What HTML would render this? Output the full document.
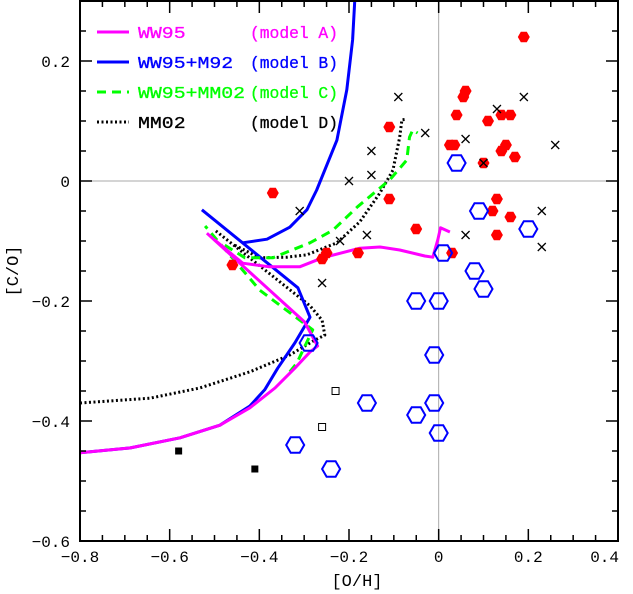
<!DOCTYPE html>
<html><head><meta charset="utf-8"><style>
html,body{margin:0;padding:0;background:#fff;}
svg{display:block;font-family:"Liberation Mono","DejaVu Sans Mono",monospace;}
</style></head><body>
<svg id="chart" width="633" height="594" viewBox="0 0 633 594"></svg>
<script>
const xTicks=[-0.8,-0.6,-0.4,-0.2,0,0.2,0.4];
const xTickLabels=["\u22120.8","\u22120.6","\u22120.4","\u22120.2","0","0.2","0.4"];
const yTicks=[0.2,0,-0.2,-0.4,-0.6];
const yTickLabels=["0.2","0","\u22120.2","\u22120.4","\u22120.6"];
const modelA_lowX=[-0.8,-0.689,-0.577,-0.488,-0.421,-0.365,-0.321,-0.287,-0.270,-0.299,-0.517];
const modelA_lowY=[-0.453,-0.445,-0.428,-0.407,-0.378,-0.345,-0.312,-0.285,-0.275,-0.235,-0.087];
const modelA_upX=[-0.5,-0.437,-0.377,-0.31,-0.259,-0.176,-0.131,-0.087,-0.031,-0.013,-0.002,0.004,0.025];
const modelA_upY=[-0.098,-0.137,-0.143,-0.143,-0.128,-0.112,-0.110,-0.115,-0.125,-0.127,-0.098,-0.078,-0.085];
const modelB_lowX=[-0.8,-0.689,-0.577,-0.488,-0.421,-0.388,-0.359,-0.321,-0.287,-0.314,-0.528];
const modelB_lowY=[-0.453,-0.445,-0.428,-0.407,-0.375,-0.348,-0.312,-0.27,-0.227,-0.178,-0.048];
const modelB_upX=[-0.437,-0.383,-0.332,-0.294,-0.272,-0.227,-0.205,-0.192,-0.187];
const modelB_upY=[-0.103,-0.097,-0.077,-0.048,-0.015,0.068,0.152,0.235,0.302];
const modelC_lowX=[-0.332,-0.316,-0.281,-0.399,-0.521];
const modelC_lowY=[-0.318,-0.303,-0.248,-0.182,-0.075];
const modelC_upX=[-0.477,-0.432,-0.37,-0.287,-0.236,-0.181,-0.109,-0.071,-0.065,-0.058,-0.047];
const modelC_upY=[-0.107,-0.128,-0.128,-0.103,-0.082,-0.043,0.002,0.035,0.073,0.085,0.08];
const modelD_lowX=[-0.8,-0.644,-0.533,-0.421,-0.332,-0.276,-0.254,-0.26,-0.287,-0.499];
const modelD_lowY=[-0.37,-0.362,-0.345,-0.318,-0.29,-0.265,-0.257,-0.232,-0.208,-0.082];
const modelD_upX=[-0.455,-0.399,-0.339,-0.294,-0.227,-0.176,-0.131,-0.102,-0.087,-0.082,-0.071];
const modelD_upY=[-0.107,-0.128,-0.127,-0.123,-0.103,-0.068,-0.02,0.018,0.073,0.102,0.103];
const redX=[0.19,0.06,0.055,0.04,0.11,0.16,0.14,-0.11,0.025,0.035,0.15,0.14,0.17,0.10,-0.11,0.13,0.12,0.16,0.13,-0.05,0.03,-0.18,-0.37,-0.25,-0.26,-0.46];
const redY=[0.24,0.15,0.14,0.11,0.10,0.11,0.11,0.09,0.06,0.06,0.06,0.05,0.04,0.03,-0.03,-0.03,-0.05,-0.06,-0.09,-0.08,-0.12,-0.12,-0.02,-0.12,-0.13,-0.14];
const crossX=[-0.09,0.19,0.13,-0.03,0.06,0.26,0.10,-0.15,-0.15,-0.2,-0.31,0.23,-0.16,0.06,0.23,-0.22,-0.26];
const crossY=[0.14,0.14,0.12,0.08,0.07,0.06,0.03,0.05,0.01,0,-0.05,-0.05,-0.09,-0.09,-0.11,-0.10,-0.17];
const blueX=[0.04,0.09,0.2,0.01,0.08,0.10,-0.05,0,-0.29,-0.01,-0.16,-0.05,-0.01,0,-0.32,-0.24];
const blueY=[0.03,-0.05,-0.08,-0.12,-0.15,-0.18,-0.2,-0.2,-0.27,-0.29,-0.37,-0.39,-0.37,-0.42,-0.44,-0.48];
const openSqX=[-0.23,-0.26];
const openSqY=[-0.35,-0.41];
const fillSqX=[-0.58,-0.41];
const fillSqY=[-0.45,-0.48];

const L=80,R=618,T=1,B=541,X0=-0.8,X1=0.4,Y0=-0.6,Y1=0.3;
const sx=v=>L+(v-X0)/(X1-X0)*(R-L);
const sy=v=>B-(v-Y0)/(Y1-Y0)*(B-T);
const NS="http://www.w3.org/2000/svg";
const svg=document.getElementById('chart');
function mk(tag,attrs,parent){const e=document.createElementNS(NS,tag);for(const k in attrs)e.setAttribute(k,attrs[k]);(parent||svg).appendChild(e);return e;}

let g=mk('line',{x1:sx(0),x2:sx(0),y1:T,y2:B,stroke:'#aaa','stroke-width':1});


g=mk('line',{x1:L,x2:R,y1:sy(0),y2:sy(0),stroke:'#aaa','stroke-width':1});



function line(xs,ys,color,width,dash,name){
  let d='';for(let i=0;i<xs.length;i++)d+=(i?'L':'M')+sx(xs[i]).toFixed(1)+','+sy(ys[i]).toFixed(1);
  const p=mk('path',{d:d,fill:'none',stroke:color,'stroke-width':width,'stroke-linejoin':'round'});
  if(dash)p.setAttribute('stroke-dasharray',dash);
  
  
}
line(modelD_lowX,modelD_lowY,'#000',3,'2 2.5','model-d-lower');
line(modelD_upX,modelD_upY,'#000',3,'2 2.5','model-d-upper');
line(modelB_lowX,modelB_lowY,'#0000ff',3,null,'model-b-lower');
line(modelB_upX,modelB_upY,'#0000ff',3,null,'model-b-upper');
line(modelC_lowX,modelC_lowY,'#00ff00',3,'9 6','model-c-lower');
line(modelC_upX,modelC_upY,'#00ff00',3,'9 6','model-c-upper');
line(modelA_lowX,modelA_lowY,'#ff00ff',3,null,'model-a-lower');
line(modelA_upX,modelA_upY,'#ff00ff',3,null,'model-a-upper');

function hex(cx,cy,r){let s='';for(let k=0;k<6;k++){const a=Math.PI/3*k;s+=(cx+r*Math.cos(a)).toFixed(1)+','+(cy+r*Math.sin(a)).toFixed(1)+' ';}return s;}
for(let i=0;i<redX.length;i++){
  const p=mk('polygon',{points:hex(sx(redX[i]),sy(redY[i]),6),fill:'#ff0000'});
  
  
}
for(let i=0;i<blueX.length;i++){
  const p=mk('polygon',{points:hex(sx(blueX[i]),sy(blueY[i]),9),fill:'none',stroke:'#0000ff','stroke-width':2});
  
  
}
for(let i=0;i<crossX.length;i++){
  const cx=sx(crossX[i]),cy=sy(crossY[i]);
  const p=mk('path',{d:`M${cx-4},${cy-4}L${cx+4},${cy+4}M${cx-4},${cy+4}L${cx+4},${cy-4}`,stroke:'#000','stroke-width':1.3});
  
  
}
for(let i=0;i<openSqX.length;i++){
  const p=mk('rect',{x:sx(openSqX[i])-3.5,y:sy(openSqY[i])-3.5,width:7,height:7,fill:'none',stroke:'#000','stroke-width':1});
  
  
}
for(let i=0;i<fillSqX.length;i++){
  const p=mk('rect',{x:sx(fillSqX[i])-3.5,y:sy(fillSqY[i])-3.5,width:7,height:7,fill:'#000'});
  
  
}

g=mk('rect',{x:L,y:T,width:R-L,height:B-T,fill:'none',stroke:'#000','stroke-width':2});


let td='';
for(let k=0;k<=24;k++){const v=X0+k*0.05,x=sx(v),len=(k%4===0)?12:6;td+=`M${x},${B}v${-len}M${x},${T}v${len}`;}
for(let k=0;k<=18;k++){const v=Y0+k*0.05,y=sy(v),len=(k%4===0)?12:6;td+=`M${L},${y}h${len}M${R},${y}h${-len}`;}
g=mk('path',{d:td,stroke:'#000','stroke-width':1.5,fill:'none'});


for(let i=0;i<xTicks.length;i++){
  let anchor='middle',x=sx(xTicks[i]);
  if(i===xTicks.length-1){anchor='end';x=R+1;}
  const t=mk('text',{x:x,y:562,'text-anchor':anchor,'font-size':16,fill:'#000'});
  t.textContent=xTickLabels[i];
  
  
}
for(let i=0;i<yTicks.length;i++){
  const t=mk('text',{x:70,y:sy(yTicks[i])+6,'text-anchor':'end','font-size':16,fill:'#000'});
  t.textContent=yTickLabels[i];
  
  
}
g=mk('text',{x:357,y:586,'text-anchor':'middle','font-size':17,fill:'#000'});
g.textContent='[O/H]';


g=mk('text',{x:0,y:0,'text-anchor':'middle','font-size':17,fill:'#000',transform:'translate(18,271) rotate(-90)'});
g.textContent='[C/O]';



const legNames=['WW95','WW95+M92','WW95+MM02','MM02'];
const legModels=['(model A)','(model B)','(model C)','(model D)'];
const legColors=['#ff00ff','#0000ff','#00ff00','#000'];
const legDash=[null,null,'9 6','2 2.5'];
for(let i=0;i<4;i++){
  const y=32+i*30;
  const ln=mk('line',{x1:97,x2:129,y1:y,y2:y,stroke:legColors[i],'stroke-width':3});
  if(legDash[i])ln.setAttribute('stroke-dasharray',legDash[i]);
  
  
  const t1=mk('text',{x:138,y:y+6,'font-size':17,fill:legColors[i],stroke:legColors[i],'stroke-width':0.3,textLength:legNames[i].length*11.9,lengthAdjust:'spacingAndGlyphs'});
  t1.textContent=legNames[i];
  
  
  const t2=mk('text',{x:250,y:y+6,'font-size':17,fill:legColors[i],stroke:legColors[i],'stroke-width':0.3,textLength:88,lengthAdjust:'spacingAndGlyphs'});
  t2.textContent=legModels[i];
  
  
}
</script>
</body></html>
